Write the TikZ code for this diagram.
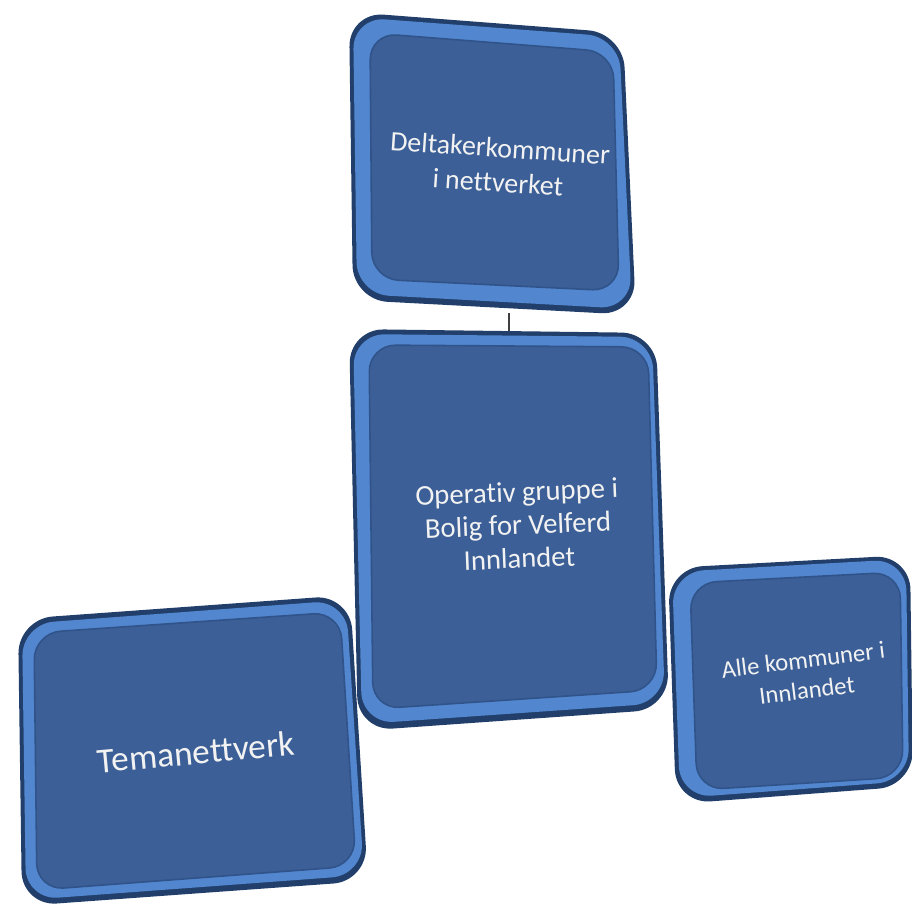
\documentclass[tikz,border=0pt]{standalone}
\usepackage{fontspec}
\setmainfont[Ligatures=NoCommon]{Carlito}
\usetikzlibrary{calc}
\definecolor{rimdark}{HTML}{213F6A}
\definecolor{rimlight}{HTML}{5286CF}
\definecolor{facecol}{HTML}{3B5F96}
\definecolor{faceedge}{HTML}{30548A}
\definecolor{txtcol}{HTML}{F2F2F2}
\tikzset{
  rimouter/.style={fill=rimdark, rounded corners=26pt},
  rimmid/.style={fill=rimlight, rounded corners=24pt},
  facebox/.style={fill=facecol, draw=faceedge, line width=1.2pt, rounded corners=20pt},
  label/.style={text=txtcol, align=center, inner sep=0pt},
  link/.style={draw=black!75, line width=0.8pt}
}
\begin{document}
\begin{tikzpicture}[x=0.75pt,y=-0.75pt]
\useasboundingbox (0,0) rectangle (912,903);
\clip (0,0) rectangle (912,903);

% ---- middle box: Operativ gruppe ----
\fill[rimouter] (349,329) -- (656,333) -- (669,709) -- (358,731) -- cycle;
\fill[rimmid] (353,334) -- (652,337) -- (665,703) -- (362,724) -- cycle;
\path[facebox] (369,345) -- (648,347) -- (657,690) -- (373,709) -- cycle;
\node[label, rotate=2.3, font=\fontsize{21.5}{25}\selectfont] (op) at (518,525)
  {Operativ gruppe i\\Bolig for Velferd\\Innlandet};
\coordinate (opN) at (509,331);

% ---- top box: Deltakerkommuner ----
\fill[rimouter] (349,12) -- (623,33) -- (636,315) -- (353,300) -- cycle;
\fill[rimmid] (353,17) -- (619,37) -- (632,309) -- (357,294) -- cycle;
\path[facebox] (370,33) -- (613,52) -- (619,291) -- (372,279) -- cycle;
\node[label, rotate=-3.8, font=\fontsize{21}{26}\selectfont] (del) at (499,165)
  {Deltakerkommuner\\i nettverket};
\coordinate (delS) at (509,313);

% ---- left box: Temanettverk ----
\fill[rimouter] (18,619) -- (350,595) -- (368,881) -- (22,906) -- cycle;
\fill[rimmid] (22,624) -- (346,600) -- (364,875) -- (26,900) -- cycle;
\path[facebox] (34,633) -- (340,612) -- (356,866) -- (37,890) -- cycle;
\node[label, rotate=5.3, font=\fontsize{26.5}{31}\selectfont] (tema) at (196,752)
  {Temanettverk};

% ---- right box: Alle kommuner ----
\fill[rimouter] (668,568) -- (910,555) -- (913,786) -- (676,804) -- cycle;
\fill[rimmid] (672,572) -- (906,559) -- (909,781) -- (680,798) -- cycle;
\path[facebox] (690,583) -- (900,572) -- (903,777) -- (697,790) -- cycle;
\node[label, rotate=7, font=\fontsize{18.5}{23}\selectfont] (alle) at (805,675)
  {Alle kommuner i\\Innlandet};

% ---- connector ----
\draw[link] (delS) -- (opN);
\end{tikzpicture}
\end{document}
